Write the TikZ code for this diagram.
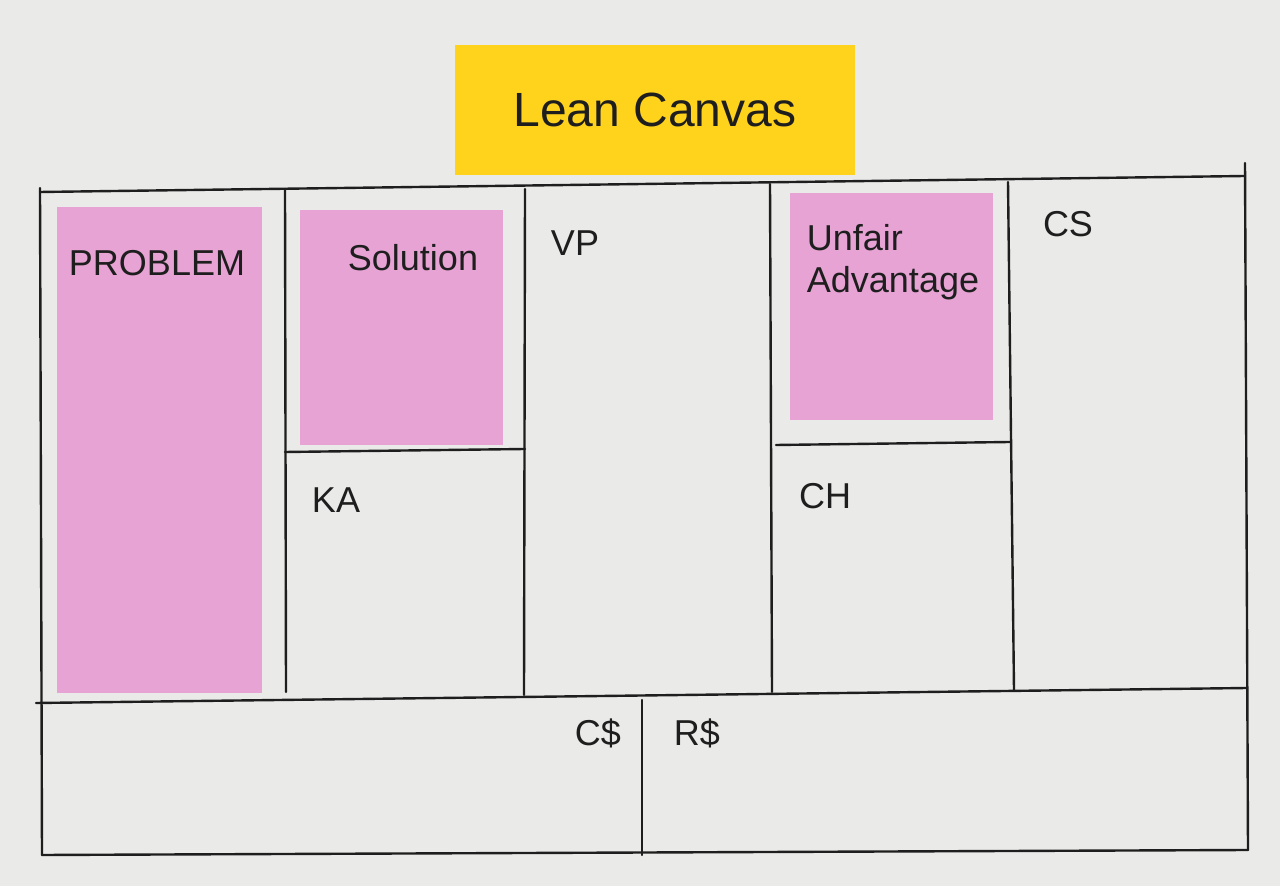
\documentclass[tikz,border=0pt]{standalone}
\usepackage{fontspec}
\setmainfont{Liberation Sans}
\definecolor{paper}{HTML}{EAEAE8}
\definecolor{ink}{HTML}{1E1E1E}
\definecolor{noteyellow}{HTML}{FFD21C}
\definecolor{notepink}{HTML}{E6A3D4}
\begin{document}
\begin{tikzpicture}[x=0.5pt,y=-0.5pt]
    \tikzset{pen/.style = {draw=ink,line width=1.2pt,line cap=round}, sticky/.style = {fill=notepink}, lbl/.style = {text=ink,inner sep=0pt,font=\fontsize{18}{21}\selectfont}}
    \fill[paper] (0,0) rectangle (1280,886);
    \useasboundingbox (0,0) rectangle (1280,886);
    % title note
    \node[fill=noteyellow,minimum width=200pt,minimum height=65pt,inner sep=0pt,text=ink,font=\fontsize{24}{28}\selectfont] (title) at (655,110) {Lean Canvas};
    % pink notes
    \fill[sticky] (57,207) rectangle (262,693);
    \fill[sticky] (300,210) rectangle (503,445);
    \fill[sticky] (790,193) rectangle (993,420);
    % frame
    \draw[pen] (40,192) -- (1245,176);
    \draw[pen] (40,188) -- (42,855);
    \draw[pen] (1245,163) -- (1248,850);
    \draw[pen] (36,703) -- (1247,688);
    \draw[pen] (42,855) -- (1248,850);
    \draw[pen] (285,189) -- (286,692);
    \draw[pen] (525,189) -- (524,695);
    \draw[pen] (770,184) -- (772,692);
    \draw[pen] (1008,182) -- (1014,690);
    \draw[pen] (642,700) -- (642,855);
    \draw[pen] (285,452) -- (525,449);
    \draw[pen] (776,445) -- (1010,442);
    % labels
    \node[lbl] (problem) at (157,263) {PROBLEM};
    \node[lbl] (solution) at (413,258) {Solution};
    \node[lbl] (vp) at (575,243) {VP};
    \node[lbl,align=left] (unfair) at (893,262) {Unfair\\Advantage};
    \node[lbl] (cs) at (1068,224) {CS};
    \node[lbl] (ka) at (336,500) {KA};
    \node[lbl] (ch) at (825,496) {CH};
    \node[lbl] (cost) at (598,733) {C\$};
    \node[lbl] (revenue) at (697,733) {R\$};
\end{tikzpicture}
\end{document}
